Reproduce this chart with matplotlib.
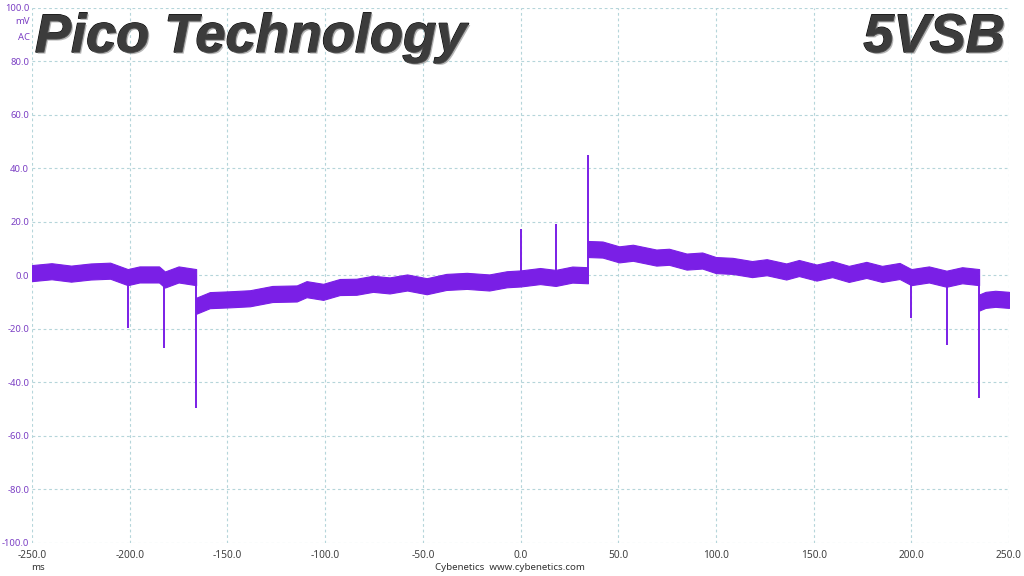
import numpy as np
import matplotlib.pyplot as plt
import matplotlib.patheffects as pe

# band centre (mV), one array pair per flat section
left_t = [-250, -240, -230, -220, -210, -201, -195, -185, -182, -175, -166]
left_v = [0.8, 1.5, 0.6, 1.4, 1.7, -0.7, 0.3, 0.3, -1.6, 0.3, -0.7]

mid_t = [-166, -159, -149, -138.5, -127, -114.5, -109.5, -101, -92.5, -84,
         -75.5, -67, -58, -48, -38, -27.5, -16, -7, 0, 10, 18, 26.5, 34.5]
mid_v = [-11.4, -9.3, -9.0, -8.6, -7.0, -6.8, -5.2, -6.2, -4.4, -4.3,
         -3.2, -3.8, -2.7, -4.1, -2.5, -2.1, -2.7, -1.5, -1.2, -0.3, -1.0, 0.25, 0.0]

right_t = [34.5, 42, 50.5, 57.5, 69.5, 76, 85, 93, 100, 108.5, 118.5, 126,
           136, 142.5, 151.5, 159.5, 168, 177, 185, 194, 200, 209, 218, 226, 234.7]
right_v = [9.8, 9.6, 7.8, 8.4, 6.6, 6.9, 5.1, 5.5, 3.8, 3.5, 2.3, 3.0,
           1.4, 2.7, 1.0, 2.3, 0.5, 2.0, 0.5, 1.6, -0.7, 0.3, -1.3, 0.0, -0.7]

end_t = [234.7, 238, 243, 250]
end_v = [-10.2, -9.2, -8.8, -9.2]

band_half = 3.0  # noise half-width, mV

# spikes: time (ms) and tip value (mV)
spike_t = [-201, -182.5, -166, 0, 18, 34.3, 200, 218.3, 234.7]
spike_tip = [-19.8, -27, -49.7, 17.2, 19, 45, -16, -26, -46]

xticks = np.arange(-250, 251, 50)
yticks = np.arange(-100, 101, 20)

trace = '#7a1fe6'
purple_txt = '#7b3fc4'

fig = plt.figure(figsize=(10.24, 5.76), dpi=100)
ax = fig.add_axes([32/1024, 1 - 543/576, (1009 - 32)/1024, (543 - 7.5)/576])

ax.set_xlim(-250, 250)
ax.set_ylim(-100, 100)
ax.set_xticks(xticks)
ax.set_yticks(yticks)
ax.set_xticklabels(['%.1f' % v for v in xticks], fontsize=7.3, color='#404040',
                   family='Noto Sans')
ax.set_yticklabels(['%.1f' % v for v in yticks], fontsize=6.8, color=purple_txt,
                   family='Noto Sans')
ax.tick_params(length=0, pad=2)
ax.tick_params(axis='x', pad=5)
for s in ax.spines.values():
    s.set_visible(False)
ax.grid(True, color='#b5d5da', linestyle=(0, (2.5, 2.5)), linewidth=0.8)
ax.set_axisbelow(True)

for t, v in [(left_t, left_v), (mid_t, mid_v), (right_t, right_v), (end_t, end_v)]:
    t = np.array(t)
    v = np.array(v)
    ax.fill_between(t, v - band_half, v + band_half, color=trace, linewidth=0.8,
                    edgecolor=trace, zorder=3)

ax.vlines(spike_t, 0, spike_tip, color=trace, linewidth=1.4, zorder=3)

# unit labels under the top tick
fig.text(30/1024, 1 - 21/576, 'mV', ha='right', va='center', fontsize=6.8,
         color=purple_txt, family='Noto Sans')
fig.text(30/1024, 1 - 37/576, 'AC', ha='right', va='center', fontsize=6.8,
         color=purple_txt, family='Noto Sans')
fig.text(38/1024, 1 - 568/576, 'ms', ha='center', va='center', fontsize=7,
         color='#333333', family='Noto Sans')
fig.text(510/1024, 1 - 568/576, 'Cybenetics  www.cybenetics.com', ha='center',
         va='center', fontsize=7, color='#333333', family='Noto Sans')

fx = [pe.withStroke(linewidth=1, foreground='black'),
      pe.SimplePatchShadow(offset=(1.2, -1.2), shadow_rgbFace='#888888', alpha=0.6),
      pe.Normal()]
title_kw = dict(fontsize=39, fontweight='bold', fontstyle='italic',
                family=['Liberation Sans', 'DejaVu Sans'], color='#3c3c3c',
                va='baseline')
t1 = fig.text(35/1024, 1 - 52/576, 'Pico Technology', ha='left', **title_kw)
t2 = fig.text(1005/1024, 1 - 52/576, '5VSB', ha='right', **title_kw)
t1.set_path_effects(fx)
t2.set_path_effects(fx)

fig.savefig('out.png', dpi=100)
